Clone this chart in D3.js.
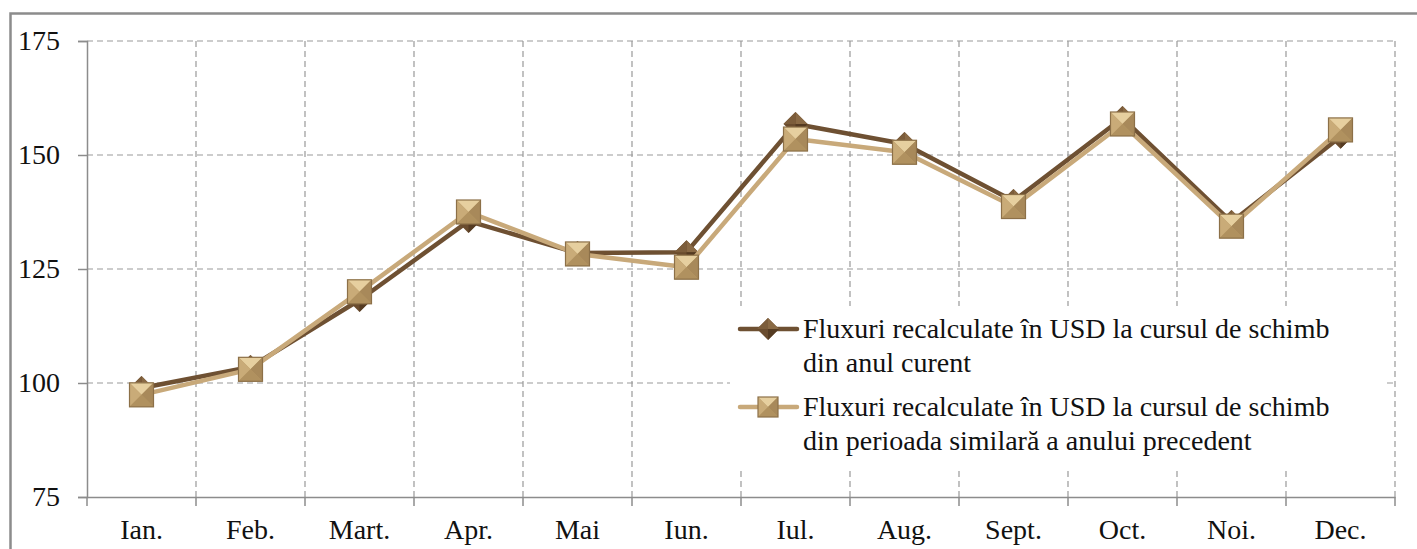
<!DOCTYPE html>
<html>
<head>
<meta charset="utf-8">
<script src="https://cdn.jsdelivr.net/npm/d3@7"></script>
<style>
  body { margin: 0; background: #fff; }
  text { font-family: "Liberation Serif", "Times New Roman", serif; }
</style>
</head>
<body>
<div id="chart"></div>
<script>
const months = ["Ian.", "Feb.", "Mart.", "Apr.", "Mai", "Iun.", "Iul.", "Aug.", "Sept.", "Oct.", "Noi.", "Dec."];
const curent = [98.9, 103.5, 118.2, 135.5, 128.5, 128.7, 156.8, 152.4, 139.9, 158.1, 135.3, 154.0];
const precedent = [97.4, 103.0, 120.0, 137.5, 128.3, 125.4, 153.5, 150.6, 138.7, 156.8, 134.4, 155.5];
const yTicks = [75, 100, 125, 150, 175];
const legendLabels = [
  ["Fluxuri recalculate în USD la cursul de schimb", "din anul curent"],
  ["Fluxuri recalculate în USD la cursul de schimb", "din perioada similară a anului precedent"]
];

const width = 1417, height = 549;
const margin = { left: 87, right: 22, top: 41, bottom: 52 };
const fontSize = 28;

const svg = d3.select("#chart").append("svg")
  .attr("width", width)
  .attr("height", height);

// chart frame
svg.append("rect")
  .attr("x", 10.5).attr("y", 13.5)
  .attr("width", width).attr("height", height)
  .attr("fill", "none")
  .attr("stroke", "#8c8c8c")
  .attr("stroke-width", 2.5);

const x = d3.scaleBand()
  .domain(months)
  .range([margin.left, width - margin.right]);

const y = d3.scaleLinear()
  .domain([75, 175])
  .range([height - margin.bottom, margin.top]);

const g = svg.append("g");

// horizontal grid
g.selectAll(".hgrid")
  .data(yTicks.filter(d => d !== 75))
  .enter().append("line")
  .attr("x1", margin.left).attr("x2", width - margin.right)
  .attr("y1", d => y(d)).attr("y2", d => y(d))
  .attr("stroke", "#999").attr("stroke-width", 1.2)
  .attr("stroke-dasharray", "6,4");

// vertical grid at band boundaries
const bounds = months.map(m => x(m)).concat([x(months[11]) + x.bandwidth()]).slice(1);
g.selectAll(".vgrid")
  .data(bounds)
  .enter().append("line")
  .attr("x1", d => d).attr("x2", d => d)
  .attr("y1", y(175)).attr("y2", y(75))
  .attr("stroke", "#999").attr("stroke-width", 1.2)
  .attr("stroke-dasharray", "6,4");

// y axis
const yAxis = d3.axisLeft(y).tickValues(yTicks).tickSize(9).tickPadding(18);
const ya = svg.append("g")
  .attr("transform", `translate(${margin.left},0)`)
  .call(yAxis);
ya.select(".domain").attr("stroke", "#8c8c8c").attr("stroke-width", 1.5);
ya.selectAll(".tick line").attr("stroke", "#8c8c8c").attr("stroke-width", 1.5);
ya.selectAll(".tick text")
  .attr("font-family", "Liberation Serif")
  .attr("font-size", fontSize).attr("fill", "#111");

// x axis
const xAxis = d3.axisBottom(x).tickSize(0).tickPadding(22);
const xa = svg.append("g")
  .attr("transform", `translate(0,${y(75)})`)
  .call(xAxis);
xa.select(".domain").attr("stroke", "#8c8c8c").attr("stroke-width", 1.5);
xa.selectAll(".tick text")
  .attr("font-family", "Liberation Serif")
  .attr("font-size", fontSize).attr("fill", "#111");
xa.selectAll(".xt")
  .data([x(months[0])].concat(bounds))
  .enter().append("line")
  .attr("x1", d => d).attr("x2", d => d)
  .attr("y1", 0).attr("y2", 9)
  .attr("stroke", "#8c8c8c").attr("stroke-width", 1.5);

const cx = m => x(m) + x.bandwidth() / 2;
const line = d3.line().x((d, i) => cx(months[i])).y(d => y(d));

const darkColor = "#6e5032";
const lightColor = "#c8a97a";

function drawDiamond(sel, px, py, s) {
  const gg = sel.append("g").attr("transform", `translate(${px},${py})`);
  gg.append("path").attr("d", `M0,${-s}L${s},0L0,${s}L${-s},0Z`).attr("fill", "#6a4c2e");
  gg.append("path").attr("d", `M0,${-s}L${s},0L0,0Z`).attr("fill", "#8a6a45");
  gg.append("path").attr("d", `M0,${-s}L${-s},0L0,0Z`).attr("fill", "#7c5d3b");
  gg.append("path").attr("d", `M0,${s}L${s},0L0,0Z`).attr("fill", "#553b22");
}

function drawSquare(sel, px, py, s) {
  const gg = sel.append("g").attr("transform", `translate(${px},${py})`);
  gg.append("rect").attr("x", -s).attr("y", -s).attr("width", 2 * s).attr("height", 2 * s).attr("fill", "#b99a68");
  gg.append("path").attr("d", `M${-s},${-s}L${s},${-s}L0,0Z`).attr("fill", "#e6cf9f");
  gg.append("path").attr("d", `M${-s},${-s}L${-s},${s}L0,0Z`).attr("fill", "#c9ab78");
  gg.append("path").attr("d", `M${s},${-s}L${s},${s}L0,0Z`).attr("fill", "#a8895a");
  gg.append("path").attr("d", `M${-s},${s}L${s},${s}L0,0Z`).attr("fill", "#b0915f");
  gg.append("rect").attr("x", -s).attr("y", -s).attr("width", 2 * s).attr("height", 2 * s)
    .attr("fill", "none").attr("stroke", "#8c7048").attr("stroke-width", 1.2);
}

// series 1 (dark)
svg.append("path").datum(curent)
  .attr("d", line).attr("fill", "none")
  .attr("stroke", darkColor).attr("stroke-width", 4.5).attr("stroke-linejoin", "round");
const m1 = svg.append("g");
curent.forEach((v, i) => drawDiamond(m1, cx(months[i]), y(v), 12));

// series 2 (light)
svg.append("path").datum(precedent)
  .attr("d", line).attr("fill", "none")
  .attr("stroke", lightColor).attr("stroke-width", 4.5).attr("stroke-linejoin", "round");
const m2 = svg.append("g");
precedent.forEach((v, i) => drawSquare(m2, cx(months[i]), y(v), 12));

// legend
const lg = svg.append("g");
lg.append("rect")
  .attr("x", 730).attr("y", 306).attr("width", 655).attr("height", 164)
  .attr("fill", "#fff");
const entryY = [329, 407];
legendLabels.forEach((lines, i) => {
  const yy = entryY[i];
  lg.append("line")
    .attr("x1", 740).attr("x2", 797).attr("y1", yy).attr("y2", yy)
    .attr("stroke", i === 0 ? darkColor : lightColor).attr("stroke-width", 4.5)
    .attr("stroke-linecap", "round");
  if (i === 0) drawDiamond(lg, 768, yy, 11);
  else drawSquare(lg, 768, yy, 10);
  const t = lg.append("text")
    .attr("x", 803).attr("y", yy + 9)
    .attr("font-size", fontSize).attr("fill", "#111");
  lines.forEach((l, j) => {
    t.append("tspan").attr("x", 803).attr("dy", j === 0 ? 0 : 34).text(l);
  });
});
</script>
</body>
</html>
